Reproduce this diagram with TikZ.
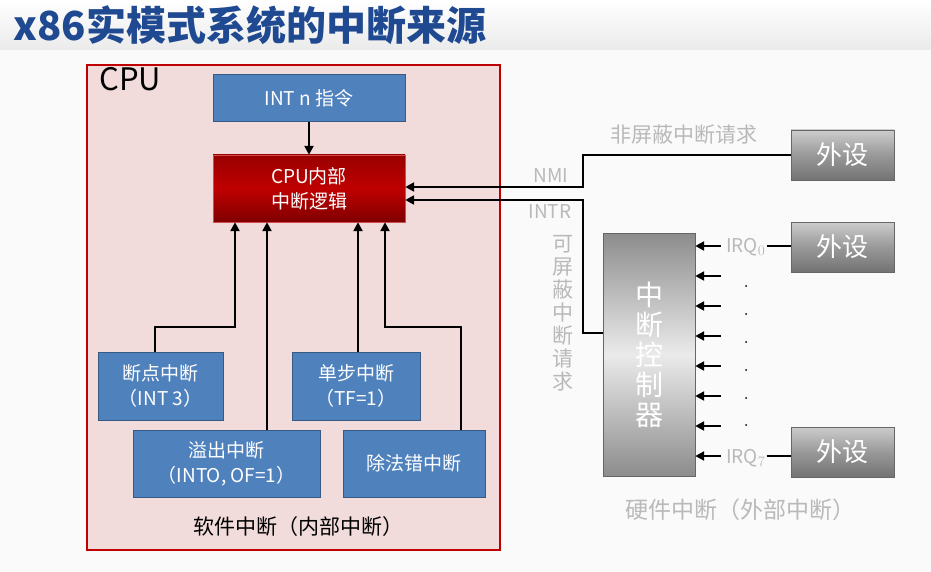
\documentclass[tikz,border=0pt]{standalone}
\usepackage{fontspec}
\setmainfont{Noto Sans CJK SC}
\usetikzlibrary{positioning,arrows.meta}
\definecolor{boxblue}{RGB}{79,129,189}
\definecolor{cpupink}{RGB}{242,220,219}
\definecolor{cpured}{RGB}{192,0,0}
\definecolor{titleblue}{RGB}{31,73,145}
\definecolor{lightgray}{RGB}{185,185,185}
\tikzset{
  blue box/.style={draw=boxblue!70!black,fill=boxblue,text=white,font=\fontsize{19}{25}\selectfont,align=center,inner sep=0pt,line width=1pt},
  gray box/.style={draw=black!60,top color=black!20,bottom color=black!55,middle color=black!40,text=white,font=\fontsize{26}{30}\selectfont,inner sep=0pt,line width=0.8pt},
  wire/.style={line width=2.6pt},
  feed/.style={wire,-{Triangle[length=9pt,width=9pt]}},
  pale/.style={text=lightgray,font=\fontsize{19}{22}\selectfont}
}
\begin{document}
\begin{tikzpicture}[x=1pt,y=-1pt]
\useasboundingbox (0,0) rectangle (931,572);
\fill[black!2] (0,0) rectangle (931,572);
\shade[top color=white,bottom color=black!8] (0,0) rectangle (931,50);

% title
\node[anchor=west,text=titleblue,font=\fontsize{40}{44}\selectfont\bfseries] (title) at (10,25) {x86实模式系统的中断来源};

% CPU
\draw[draw=cpured,fill=cpupink,line width=1.2pt] (87,65) rectangle (500,550);
\node[anchor=north west,font=\fontsize{31}{34}\selectfont] (cpu) at (96,64) {CPU};
\node[blue box,minimum width=192pt,minimum height=47pt] (intn) at (309,98.5) {INT n 指令};
\node[draw=cpured!70,top color=red!60!black,bottom color=red!50!black,middle color=red!75!black,text=white,font=\fontsize{19}{25}\selectfont,align=center,inner sep=0pt,minimum width=192pt,minimum height=67pt] (logic) at (309,188.5) {CPU内部\\中断逻辑};
\node[blue box,minimum width=125pt,minimum height=68pt] (brk) at (160.5,386) {断点中断\\（INT 3）};
\node[blue box,minimum width=128pt,minimum height=68pt] (step) at (356,386) {单步中断\\（TF=1）};
\node[blue box,minimum width=187pt,minimum height=67pt] (ovf) at (226.5,463.5) {溢出中断\\（INTO, OF=1）};
\node[blue box,minimum width=142pt,minimum height=67pt] (div) at (414,463.5) {除法错中断};
\node[font=\fontsize{21}{24}\selectfont] (soft) at (298,527) {软件中断（内部中断）};

\draw[feed] (intn) -- (logic);
\draw[feed] (brk.north -| 155,0) |- (235,327) -- (logic.south -| 235,0);
\draw[feed] (ovf.north -| 267,0) -- (logic.south -| 267,0);
\draw[feed] (step.north -| 358,0) -- (logic.south -| 358,0);
\draw[feed] (div.north -| 461,0) |- (385,327) -- (logic.south -| 385,0);

% hardware side
\node[gray box,minimum width=103pt,minimum height=50pt] (dev0) at (842.5,155) {外设};
\node[gray box,minimum width=103pt,minimum height=50pt] (dev1) at (842.5,247) {外设};
\node[gray box,minimum width=103pt,minimum height=50pt] (dev7) at (842.5,452) {外设};
\node[draw=black!60,left color=black!45,right color=black!45,middle color=black!8,shading angle=0,text=white,font=\fontsize{28}{30}\selectfont,align=center,inner sep=0pt,minimum width=92pt,minimum height=243pt] (pic) at (649,354.5) {中\\断\\控\\制\\器};

\coordinate (nmi) at (logic.east |- 0,187);
\coordinate (intr) at (logic.east |- 0,200);
\draw[feed] (dev0.west) -| (583,187) -- (nmi);
\draw[feed] (pic.west |- 0,333) -| (583,200) -- (intr);

\node[pale,anchor=south] (nmitext) at (551,186) {NMI};
\node[pale,anchor=north] (intrtext) at (550,201) {INTR};
\node[pale,font=\fontsize{21}{24}\selectfont] (nmireq) at (684,135) {非屏蔽中断请求};
\node[pale,font=\fontsize{21}{23}\selectfont,align=center,anchor=north] (intrreq) at (563,232) {可\\屏\\蔽\\中\\断\\请\\求};
\node[pale,font=\fontsize{23}{26}\selectfont] (hard) at (740,510) {硬件中断（外部中断）};

\foreach \y in {246,276,306,336,366,396,426,456}
  \draw[feed] (721,\y) -- (pic.east |- 0,\y);
\foreach \y in {286,314,342,370,398,425}
  \fill (746,\y) circle (1pt);
\node[pale,anchor=west,inner sep=1pt] (irq0) at (725,247) {IRQ$_0$};
\node[pale,anchor=west,inner sep=1pt] (irq7) at (725,458) {IRQ$_7$};
\draw[wire] (irq0.east |- 0,246) -- (dev1.west |- 0,246);
\draw[wire] (irq7.east |- 0,456) -- (dev7.west |- 0,456);
\end{tikzpicture}
\end{document}
